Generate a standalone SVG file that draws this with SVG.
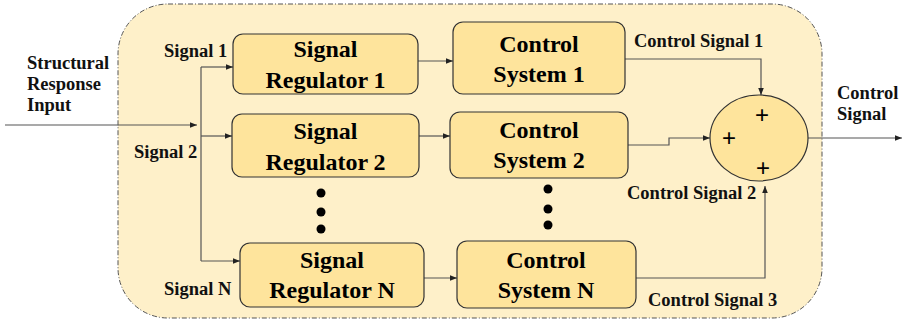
<svg xmlns="http://www.w3.org/2000/svg" width="902" height="322" viewBox="0 0 902 322">
<style>
.box{fill:#FEE49C;stroke:#333;stroke-width:1.2}
.bt{font-family:"Liberation Serif",serif;font-weight:bold;font-size:24px;fill:#000;text-anchor:middle}
.lb{font-family:"Liberation Serif",serif;font-weight:bold;font-size:18.5px;fill:#111}
.ln{fill:none;stroke:#555;stroke-width:1.2}
.pl{font-family:"Liberation Sans",sans-serif;font-size:24px;fill:#000;text-anchor:middle}
</style>
<defs>
<marker id="ah" viewBox="0 0 10 10" refX="10" refY="5" markerWidth="7" markerHeight="7" markerUnits="userSpaceOnUse" orient="auto">
<path d="M0,1 L10,5 L0,9 Z" fill="#222"/>
</marker>
</defs>
<rect id="container" x="118" y="4" width="704" height="314" rx="50" ry="50" fill="#FEF0C9" stroke="#555" stroke-width="1" stroke-dasharray="5,2,1,2"/>

<g id="connectors">
<path class="ln" d="M5,125 H197" marker-end="url(#ah)"/>
<path class="ln" d="M201,67 V261"/>
<path class="ln" d="M201,67 H233" marker-end="url(#ah)"/>
<path class="ln" d="M201,136 H232" marker-end="url(#ah)"/>
<path class="ln" d="M201,261 H240" marker-end="url(#ah)"/>
<path class="ln" d="M418,61 H453" marker-end="url(#ah)"/>
<path class="ln" d="M419,136 H450" marker-end="url(#ah)"/>
<path class="ln" d="M424,278 H457" marker-end="url(#ah)"/>
<path class="ln" d="M625,59 H761 V95" marker-end="url(#ah)"/>
<path class="ln" d="M628,145 H669 V138 H710" marker-end="url(#ah)"/>
<path class="ln" d="M636,278 H765 V186" marker-end="url(#ah)"/>
<path class="ln" d="M808,138 H902" marker-end="url(#ah)"/>
</g>

<g id="reg1"><rect class="box" x="233" y="34" width="185" height="60" rx="10"/>
<text class="bt" x="325.5" y="57">Signal</text><text class="bt" x="325.5" y="88">Regulator 1</text></g>
<g id="reg2"><rect class="box" x="232" y="114" width="187" height="63" rx="10"/>
<text class="bt" x="325.5" y="139">Signal</text><text class="bt" x="325.5" y="170">Regulator 2</text></g>
<g id="regN"><rect class="box" x="240" y="243" width="184" height="64" rx="10"/>
<text class="bt" x="332" y="268">Signal</text><text class="bt" x="332" y="298">Regulator N</text></g>

<g id="cs1"><rect class="box" x="453" y="22" width="172" height="72" rx="10"/>
<text class="bt" x="539" y="52">Control</text><text class="bt" x="539" y="82">System 1</text></g>
<g id="cs2"><rect class="box" x="450" y="112" width="178" height="66" rx="10"/>
<text class="bt" x="539" y="138">Control</text><text class="bt" x="539" y="168">System 2</text></g>
<g id="csN"><rect class="box" x="457" y="241" width="179" height="67" rx="10"/>
<text class="bt" x="546" y="268">Control</text><text class="bt" x="546" y="298">System N</text></g>

<g id="sum"><ellipse class="box" cx="759" cy="138" rx="49" ry="43"/>
<text class="pl" x="762" y="123">+</text><text class="pl" x="729" y="146">+</text><text class="pl" x="763" y="176">+</text></g>

<g id="dots1" fill="#000"><circle cx="321" cy="193" r="4.5"/><circle cx="321" cy="212" r="4.5"/><circle cx="321" cy="229" r="4.5"/></g>
<g id="dots2" fill="#000"><circle cx="548" cy="189" r="4.5"/><circle cx="548" cy="209" r="4.5"/><circle cx="548" cy="225" r="4.5"/></g>

<g id="labels">
<text class="lb" x="27" y="69">Structural</text>
<text class="lb" x="27" y="90">Response</text>
<text class="lb" x="27" y="111">Input</text>
<text class="lb" x="164" y="57">Signal 1</text>
<text class="lb" x="134" y="158">Signal 2</text>
<text class="lb" x="164" y="295">Signal N</text>
<text class="lb" x="634" y="47">Control Signal 1</text>
<text class="lb" x="627" y="199">Control Signal 2</text>
<text class="lb" x="648" y="306">Control Signal 3</text>
<text class="lb" x="837" y="99">Control</text>
<text class="lb" x="837" y="120">Signal</text>
</g>
</svg>
